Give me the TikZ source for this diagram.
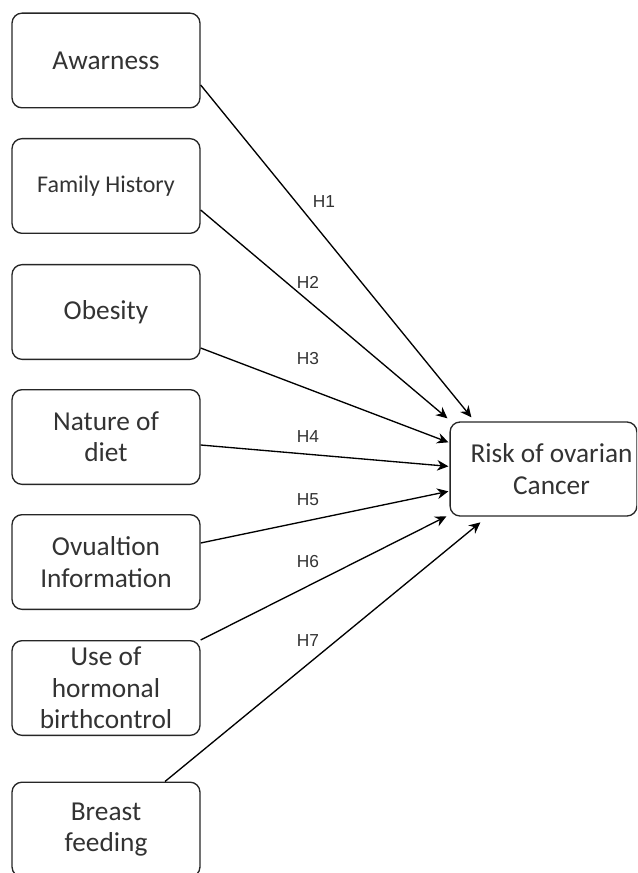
\documentclass[tikz,border=0pt]{standalone}
\usepackage{fontspec}
\setmainfont{Carlito}
\newfontfamily\hypfont{Liberation Sans}
\usetikzlibrary{arrows.meta}

\tikzset{
  factor/.style={draw=black!85, line width=1pt, rounded corners=7.5pt,
    minimum width=141pt, minimum height=71pt, align=center, text=black!80,
    font=\fontsize{20.5}{23.5}\selectfont},
  outcome/.style={factor, minimum width=138.5pt, minimum height=70.5pt},
  hyp/.style={inner sep=0pt, text=black!80, font=\hypfont\fontsize{13}{15}\selectfont},
  link/.style={line width=1pt, -{Stealth[length=8.5pt, width=8pt, inset=2.8pt]}}
}

\begin{document}
\begin{tikzpicture}[x=0.75pt, y=-0.75pt]
    \useasboundingbox (0,0) rectangle (637,873);
    \clip (0,0) rectangle (637,873);

    % Factors
    \node[factor] (aware) at (106,60.5) {Awarness};
    \node[factor, font=\fontsize{18}{21}\selectfont] (famhist) at (106,186) {Family History};
    \node[factor] (obesity) at (106,312) {Obesity};
    \node[factor] (diet) at (106,437) {Nature of\\diet};
    \node[factor] (ovul) at (106,562) {Ovualtion\\Information};
    \node[factor] (hormon) at (106,688) {Use of\\hormonal\\birthcontrol};
    \node[factor] (breast) at (106,829.5) {Breast\\feeding};

    % Outcome
    \node[outcome] (risk) at (543.5,469) {\hspace*{12pt}Risk of ovarian\\\hspace*{12pt}Cancer};

    % Hypotheses
    \draw[link] ([shift={(0,24.5)}]aware.east) -- ([shift={(22,-4)}]risk.north west);
    \draw[link] ([shift={(0,24)}]famhist.east) -- ([shift={(-2,-3)}]risk.north west);
    \draw[link] ([shift={(0,36)}]obesity.east) -- ([shift={(-1,21)}]risk.north west);
    \draw[link] ([shift={(0,8)}]diet.east) -- ([shift={(-1,45)}]risk.north west);
    \draw[link] ([shift={(0,-19)}]ovul.east) -- ([shift={(-1,70)}]risk.north west);
    \draw[link] (hormon.north east) -- ([shift={(-3,95)}]risk.north west);
    \draw[link] ([shift={(59,0)}]breast.north) -- ([shift={(31,101)}]risk.north west);

    % Labels
    \node[hyp] (h1) at (324,202) {H1};
    \node[hyp] (h2) at (308,282) {H2};
    \node[hyp] (h3) at (308,359) {H3};
    \node[hyp] (h4) at (308,437) {H4};
    \node[hyp] (h5) at (308,500) {H5};
    \node[hyp] (h6) at (308,562) {H6};
    \node[hyp] (h7) at (308,640.5) {H7};
\end{tikzpicture}
\end{document}
